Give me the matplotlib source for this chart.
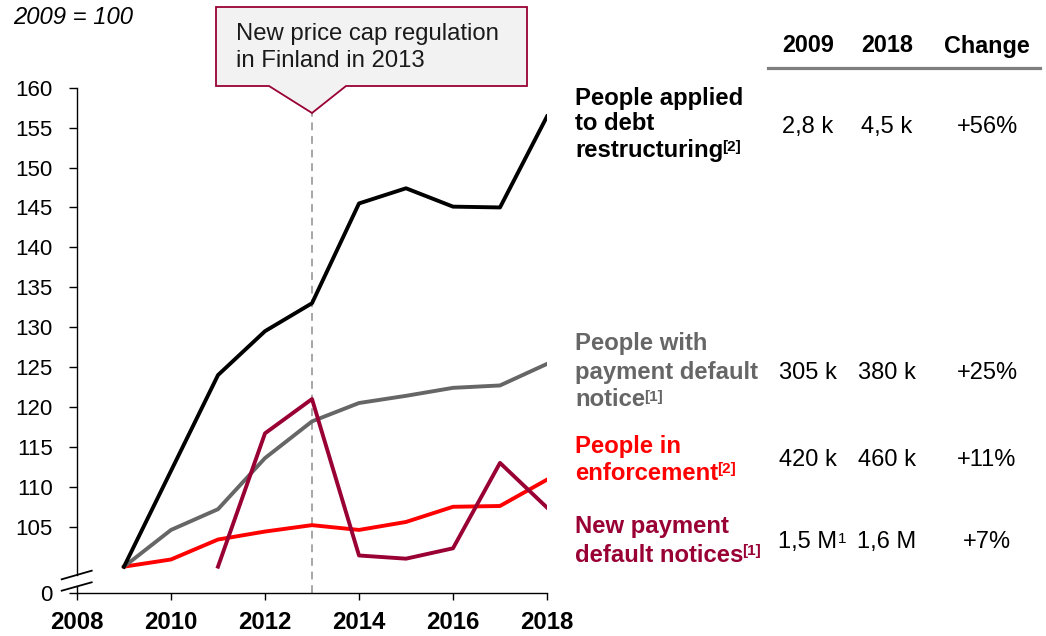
import matplotlib
matplotlib.use("Agg")
import matplotlib.pyplot as plt
from matplotlib.patches import Polygon
from matplotlib.lines import Line2D
from matplotlib.transforms import blended_transform_factory

plt.rcParams['font.family'] = ['Liberation Sans', 'DejaVu Sans']

# ---- data (index, 2009 = 100) ----
years = list(range(2009, 2019))
debt_restructuring = [100, 112.0, 124.0, 129.5, 133.0, 145.5, 147.4, 145.1, 145.0, 156.4]
default_notice_people = [100, 104.6, 107.2, 113.6, 118.2, 120.5, 121.4, 122.4, 122.7, 125.4]
enforcement = [100, 100.9, 103.4, 104.4, 105.2, 104.6, 105.6, 107.5, 107.6, 110.9]
notice_years = list(range(2011, 2019))
new_default_notices = [100, 116.7, 121.0, 101.4, 101.0, 102.3, 113.0, 107.4]

y_ticks = [105, 110, 115, 120, 125, 130, 135, 140, 145, 150, 155, 160]
x_ticks = [2008, 2010, 2012, 2014, 2016, 2018]
event_year = 2013
callout_text = "New price cap regulation\nin Finland in 2013"
index_note = "2009 = 100"

table_header = ["2009", "2018", "Change"]
row_labels = [["People applied", "to debt", "restructuring"],
              ["People with", "payment default", "notice"],
              ["People in", "enforcement"],
              ["New payment", "default notices"]]
row_notes = ["[2]", "[1]", "[2]", "[1]"]
values_2009 = ["2,8 k", "305 k", "420 k", "1,5 M"]
values_2009_notes = ["", "", "", "1"]
values_2018 = ["4,5 k", "380 k", "460 k", "1,6 M"]
changes = ["+56%", "+25%", "+11%", "+7%"]

BLACK = "#000000"
GREY = "#666666"
RED = "#ff0000"
WINE = "#990033"
row_colors = [BLACK, GREY, RED, WINE]

W, H = 1046, 636
fig = plt.figure(figsize=(W / 100, H / 100), dpi=100)


def fx(x):
    return x / W


def fy(y):
    return 1 - y / H


# axes box: x from 77 to 547 px, y from 88 to 593 px (image coordinates)
ax = fig.add_axes([fx(77), fy(593), (547 - 77) / W, (593 - 87.7) / H])
FLOOR = 96.7  # compressed position of the "0" baseline
ax.set_xlim(2008, 2018)
ax.set_ylim(FLOOR, 160)

ax.plot(years, debt_restructuring, color=BLACK, lw=2.8, zorder=5)
ax.plot(years, default_notice_people, color=GREY, lw=2.8, zorder=4)
ax.plot(years, enforcement, color=RED, lw=2.8, zorder=3)
ax.plot(notice_years, new_default_notices, color=WINE, lw=2.8, zorder=4)

# ticks
ax.set_yticks([FLOOR] + y_ticks)
ax.set_yticklabels(["0"] + [str(v) for v in y_ticks])
ax.set_xticks(x_ticks)
ax.set_xticklabels([str(v) for v in x_ticks], fontweight='bold')
ax.tick_params(axis='y', direction='out', length=5.5, width=1, labelsize=16, pad=12)
ax.tick_params(axis='x', direction='out', length=5, width=1, labelsize=17.3, pad=8)

for s in ['top', 'right', 'left']:
    ax.spines[s].set_visible(False)
ax.spines['bottom'].set_linewidth(1)

# left spine with a break between 0 and 100
axh = 593 - 87.7
gap_lo = (593 - 586.5) / axh
gap_hi = (593 - 575.0) / axh
ax.add_line(Line2D([0, 0], [0, gap_lo], transform=ax.transAxes, color='black', lw=1, clip_on=False))
ax.add_line(Line2D([0, 0], [gap_hi, 1], transform=ax.transAxes, color='black', lw=1, clip_on=False))
for y_left, y_right in [(590.7, 582.3), (579.3, 570.7)]:
    ax.add_line(Line2D([(61.7 - 77) / 470, (91.7 - 77) / 470],
                       [(593 - y_left) / axh, (593 - y_right) / axh],
                       transform=ax.transAxes, color='black', lw=1.3, clip_on=False))

# event marker: dashed line from the axis up to the callout tip
tip_y_img = 113
tip_frac = (593 - tip_y_img) / axh
btrans = blended_transform_factory(ax.transData, ax.transAxes)
ax.plot([event_year, event_year], [0, tip_frac], transform=btrans, color='#a6a6a6',
        lw=1.4, ls=(0, (4, 3)), clip_on=False, zorder=2)

# callout box with pointer
tip_x = ax.transData.transform((event_year, 100))[0]
box_pts = [(216, 7), (527, 7), (527, 86), (tip_x + 34, 86), (tip_x, tip_y_img),
           (tip_x - 43, 86), (216, 86)]
fig.patches.append(Polygon([(fx(x), fy(y)) for x, y in box_pts], closed=True,
                           transform=fig.transFigure, facecolor='#f2f2f2',
                           edgecolor=WINE, lw=1.3, zorder=1))
fig.text(fx(236), fy(47.5), callout_text, fontsize=17.2, ha='left', va='center',
         linespacing=1.3, color='#1a1a1a')

# index note
fig.text(fx(13), fy(18), index_note, fontsize=17.2, style='italic', ha='left', va='center')

# ---- table ----
col_x = [808, 887, 987]
for x, h in zip(col_x, table_header):
    fig.text(fx(x), fy(46), h, fontsize=16.8, fontweight='bold', ha='center', va='center')
fig.add_artist(Line2D([fx(768), fx(1040)], [fy(68), fy(68)], transform=fig.transFigure,
                      color='#7f7f7f', lw=2.3))

label_rows = [[98, 124, 150], [343, 372, 400], [447, 473], [527, 555]]
value_rows = [127, 373, 460, 542]

fig.canvas.draw()
renderer = fig.canvas.get_renderer()

for lines, ys, note, color, vy, v9, v9n, v18, ch in zip(
        row_labels, label_rows, row_notes, row_colors, value_rows,
        values_2009, values_2009_notes, values_2018, changes):
    last = None
    for txt, y in zip(lines, ys):
        last = fig.text(fx(575), fy(y), txt, fontsize=17.2, fontweight='bold',
                        color=color, ha='left', va='center')
    bb = last.get_window_extent(renderer)
    fig.text((bb.x1 - 1) / W, (bb.y1 - 1) / H, note, fontsize=11, fontweight='bold',
             color=color, ha='left', va='top')
    t9 = fig.text(fx(col_x[0]), fy(vy), v9, fontsize=17, ha='center', va='center')
    if v9n:
        bb9 = t9.get_window_extent(renderer)
        fig.text((bb9.x1) / W, (bb9.y1 - 1) / H, v9n, fontsize=11, ha='left', va='top')
    fig.text(fx(col_x[1]), fy(vy), v18, fontsize=17, ha='center', va='center')
    fig.text(fx(col_x[2]), fy(vy), ch, fontsize=17, ha='center', va='center')

fig.savefig("out.png", dpi=100)
